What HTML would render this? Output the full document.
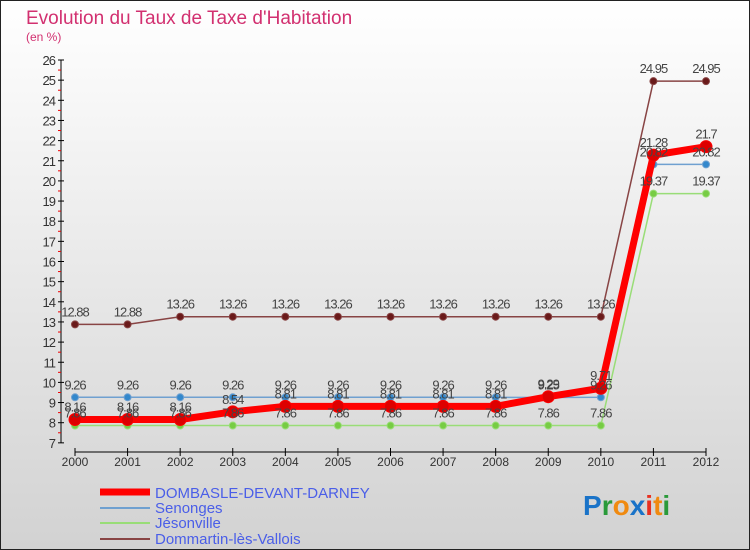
<!DOCTYPE html>
<html><head><meta charset="utf-8"><style>
body{margin:0;width:750px;height:550px;overflow:hidden}
svg{display:block;font-family:"Liberation Sans",sans-serif}
</style></head><body>
<svg id="c" width="750" height="550">
<defs><linearGradient id="bg" x1="0" y1="0" x2="0" y2="1"><stop offset="0" stop-color="#ffffff"/><stop offset="1" stop-color="#d2d2d2"/></linearGradient></defs>
<rect x="0" y="0" width="750" height="550" fill="url(#bg)"/>
<rect x="0.5" y="0.5" width="749" height="549" fill="none" stroke="#222"/>
<text x="26" y="24" font-size="19" fill="#d23070">Evolution du Taux de Taxe d'Habitation</text>
<text x="26" y="41" font-size="12" fill="#d23070">(en %)</text>
<g id="axes"></g><g id="series"></g><g id="labels"></g>
<g>
<line x1="100" y1="492" x2="150" y2="492" stroke="#ff0000" stroke-width="7"/>
<text x="155" y="498" font-size="15" fill="#4a5ee8">DOMBASLE-DEVANT-DARNEY</text>
<line x1="100" y1="508" x2="150" y2="508" stroke="#6fa0d0" stroke-width="2"/>
<text x="155" y="513" font-size="15" fill="#4a5ee8">Senonges</text>
<line x1="100" y1="523" x2="150" y2="523" stroke="#99dd77" stroke-width="2"/>
<text x="155" y="528" font-size="15" fill="#4a5ee8">Jésonville</text>
<line x1="100" y1="539" x2="150" y2="539" stroke="#884444" stroke-width="2"/>
<text x="155" y="544" font-size="15" fill="#4a5ee8">Dommartin-lès-Vallois</text>
</g>
<text x="583" y="515" font-size="28" font-weight="bold"><tspan fill="#1a73c8">P</tspan><tspan fill="#2a9a3a">r</tspan><tspan fill="#f08a10">o</tspan><tspan fill="#1a73c8">x</tspan><tspan fill="#e83020">i</tspan><tspan fill="#f08a10">t</tspan><tspan fill="#2a9a3a">i</tspan></text>
</svg>
<script>
const years=[2000,2001,2002,2003,2004,2005,2006,2007,2008,2009,2010,2011,2012];
const dombasle=[8.16,8.16,8.16,8.54,8.81,8.81,8.81,8.81,8.81,9.29,9.71,21.28,21.7];
const senonges=[9.26,9.26,9.26,9.26,9.26,9.26,9.26,9.26,9.26,9.25,9.26,20.82,20.82];
const jesonville=[7.86,7.86,7.86,7.86,7.86,7.86,7.86,7.86,7.86,7.86,7.86,19.37,19.37];
const dommartin=[12.88,12.88,13.26,13.26,13.26,13.26,13.26,13.26,13.26,13.26,13.26,24.95,24.95];
const yTicks=[7,8,9,10,11,12,13,14,15,16,17,18,19,20,21,22,23,24,25,26];
const NS="http://www.w3.org/2000/svg";
const X=i=>75+i*(706-75)/(years.length-1);
const Y=v=>60+(26-v)*20.15;
function mk(t,a,p){const e=document.createElementNS(NS,t);for(const k in a)e.setAttribute(k,a[k]);p.appendChild(e);return e;}
const ax=document.getElementById('axes');
mk('line',{x1:61,y1:Y(26),x2:61,y2:Y(7),stroke:'#000'},ax);
yTicks.forEach(v=>{
 mk('line',{x1:58,y1:Y(v),x2:64,y2:Y(v),stroke:'#000'},ax);
 if(v<26)mk('line',{x1:58,y1:Y(v+0.5),x2:61,y2:Y(v+0.5),stroke:'#e00'},ax);
 const t=mk('text',{x:55,y:Y(v)+5,'font-size':13,'text-anchor':'end',fill:'#333','letter-spacing':'-1'},ax);
 
 
 t.textContent=v;
});
mk('line',{x1:X(0),y1:452,x2:X(12),y2:452,stroke:'#000'},ax);
years.forEach((y,i)=>{
 mk('line',{x1:X(i),y1:448,x2:X(i),y2:456,stroke:'#000'},ax);
 const t=mk('text',{x:X(i),y:466,'font-size':12,'text-anchor':'middle',fill:'#333'},ax);
 
 
 t.textContent=y;
});
const sg=document.getElementById('series'),lg=document.getElementById('labels');
function draw(name,vals,col,w,r,dot){
 const pl=mk('polyline',{points:vals.map((v,i)=>X(i)+','+Y(v)).join(' '),fill:'none',stroke:col,'stroke-width':w,'stroke-linejoin':'round'},sg);
 
 
 vals.forEach((v,i)=>{
  const c=mk('circle',{cx:X(i),cy:Y(v),r:r,fill:dot,stroke:col,'stroke-width':1},sg);
  
  
  const t=mk('text',{x:X(i),y:Y(v)-8,'font-size':13,'text-anchor':'middle',fill:'#444','letter-spacing':'-1'},lg);
  
  
  t.textContent=String(v);
 });
}
draw('dommartin',dommartin,'#884444',1.5,3.5,'#6a1a1a');
draw('jesonville',jesonville,'#99dd77',1.5,3.5,'#77cc44');
draw('senonges',senonges,'#6fa0d0',1.5,3.5,'#3388cc');
draw('dombasle',dombasle,'#ff0000',7,6,'#dd0000');
</script>
</body></html>
